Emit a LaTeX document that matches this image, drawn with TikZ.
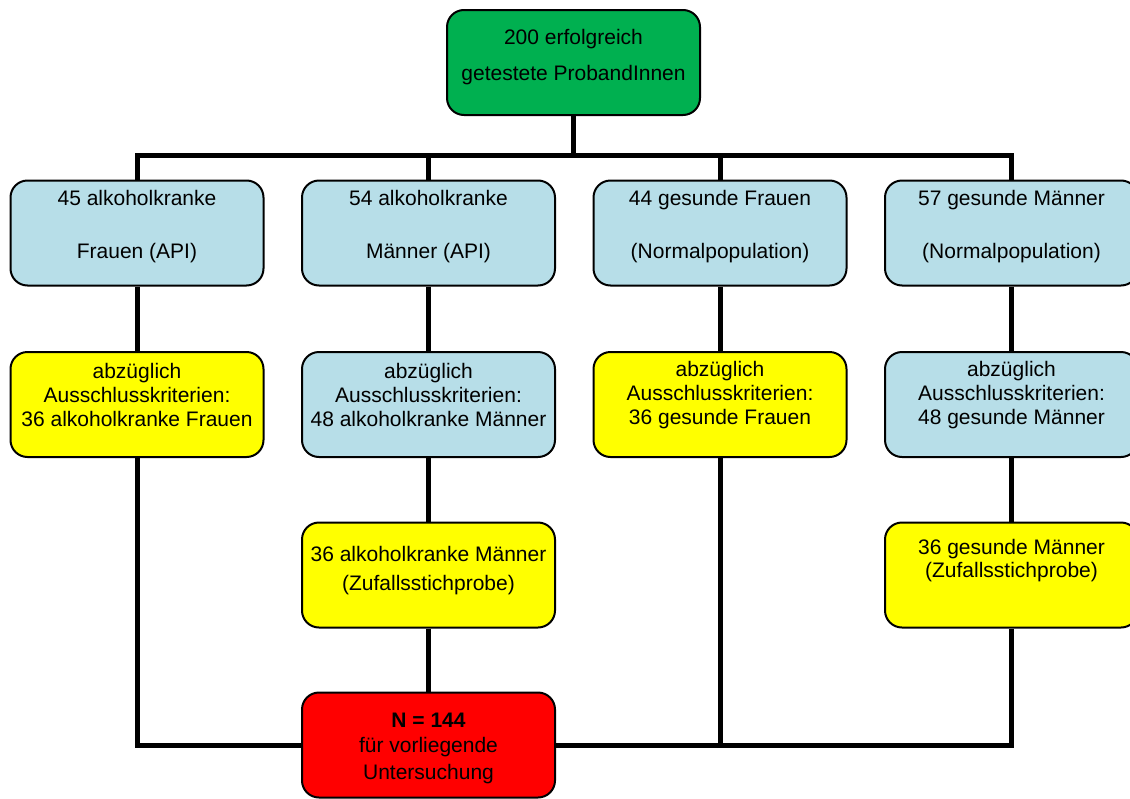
\documentclass[tikz,border=0pt]{standalone}
\usepackage{fontspec}
\setmainfont{Liberation Sans}
\definecolor{boxgreen}{RGB}{0,176,80}
\definecolor{boxblue}{RGB}{183,222,232}
\definecolor{boxyellow}{RGB}{255,255,0}
\definecolor{boxred}{RGB}{255,0,0}
\begin{document}
\begin{tikzpicture}[x=1pt,y=-1pt,
  box/.style={draw=black,line width=2pt,rounded corners=17pt,minimum width=253pt,minimum height=105pt,inner sep=0pt},
  txt/.style={inner sep=0pt,align=center,font=\fontsize{21}{24}\selectfont},
  conn/.style={line width=5pt,black}]
\useasboundingbox (0,0) rectangle (1130,798);
\coordinate (busTop) at (0,155);
% boxes
\node[box,fill=boxgreen] (top) at (573.5,62.5) {};
\node[box,fill=boxblue] (a1) at (137,233) {};
\node[box,fill=boxblue] (a2) at (428.5,233) {};
\node[box,fill=boxblue] (a3) at (720,233) {};
\node[box,fill=boxblue] (a4) at (1011.5,233) {};
\node[box,fill=boxyellow] (b1) at (137,404.5) {};
\node[box,fill=boxblue] (b2) at (428.5,404.5) {};
\node[box,fill=boxyellow] (b3) at (720,404.5) {};
\node[box,fill=boxblue] (b4) at (1011.5,404.5) {};
\node[box,fill=boxyellow] (c2) at (428.5,575) {};
\node[box,fill=boxyellow] (c4) at (1011.5,575) {};
\node[box,fill=boxred] (red) at (428.5,745) {};
% connectors
\draw[conn] (top.south) -- (top.south |- busTop);
\draw[conn] (a1.north) -- (a1.north |- busTop) -- (a4.north |- busTop) -- (a4.north);
\draw[conn] (a2.north) -- (a2.north |- busTop);
\draw[conn] (a3.north) -- (a3.north |- busTop);
\draw[conn] (a1.south) -- (b1.north);
\draw[conn] (a2.south) -- (b2.north);
\draw[conn] (a3.south) -- (b3.north);
\draw[conn] (a4.south) -- (b4.north);
\draw[conn] (b2.south) -- (c2.north);
\draw[conn] (b4.south) -- (c4.north);
\draw[conn] (c2.south) -- (red.north);
\draw[conn] (b1.south) |- (red.west);
\draw[conn] (c4.south) |- (red.east);
\draw[conn] (b3.south) -- (b3.south |- red.east);
% texts
\node[txt] (topt) at (573.5,56.7) {200 erfolgreich\\[12pt]getestete ProbandInnen};
\node[txt] (a1t) at (137,227) {45 alkoholkranke\\[29pt]Frauen (API)};
\node[txt] (a2t) at (428.5,227) {54 alkoholkranke\\[29pt]Männer (API)};
\node[txt] (a3t) at (720,227) {44 gesunde Frauen\\[29pt](Normalpopulation)};
\node[txt] (a4t) at (1011.5,227) {57 gesunde Männer\\[29pt](Normalpopulation)};
\node[txt] (b1t) at (137,394.6) {abzüglich\\Ausschlusskriterien:\\36 alkoholkranke Frauen};
\node[txt] (b2t) at (428.5,394.6) {abzüglich\\Ausschlusskriterien:\\48 alkoholkranke Männer};
\node[txt] (b3t) at (720,394.6) {abzüglich\\Ausschlusskriterien:\\36 gesunde Frauen};
\node[txt] (b4t) at (1011.5,394.6) {abzüglich\\Ausschlusskriterien:\\48 gesunde Männer};
\node[txt] (c2t) at (428.5,570.7) {36 alkoholkranke Männer\\[5pt](Zufallsstichprobe)};
\node[txt] (c4t) at (1011.5,560.2) {36 gesunde Männer\\[-1pt](Zufallsstichprobe)};
\node[txt] (redt) at (428.5,748.7) {\textbf{N = 144}\\[1pt]für vorliegende\\[3pt]Untersuchung};
\end{tikzpicture}
\end{document}
